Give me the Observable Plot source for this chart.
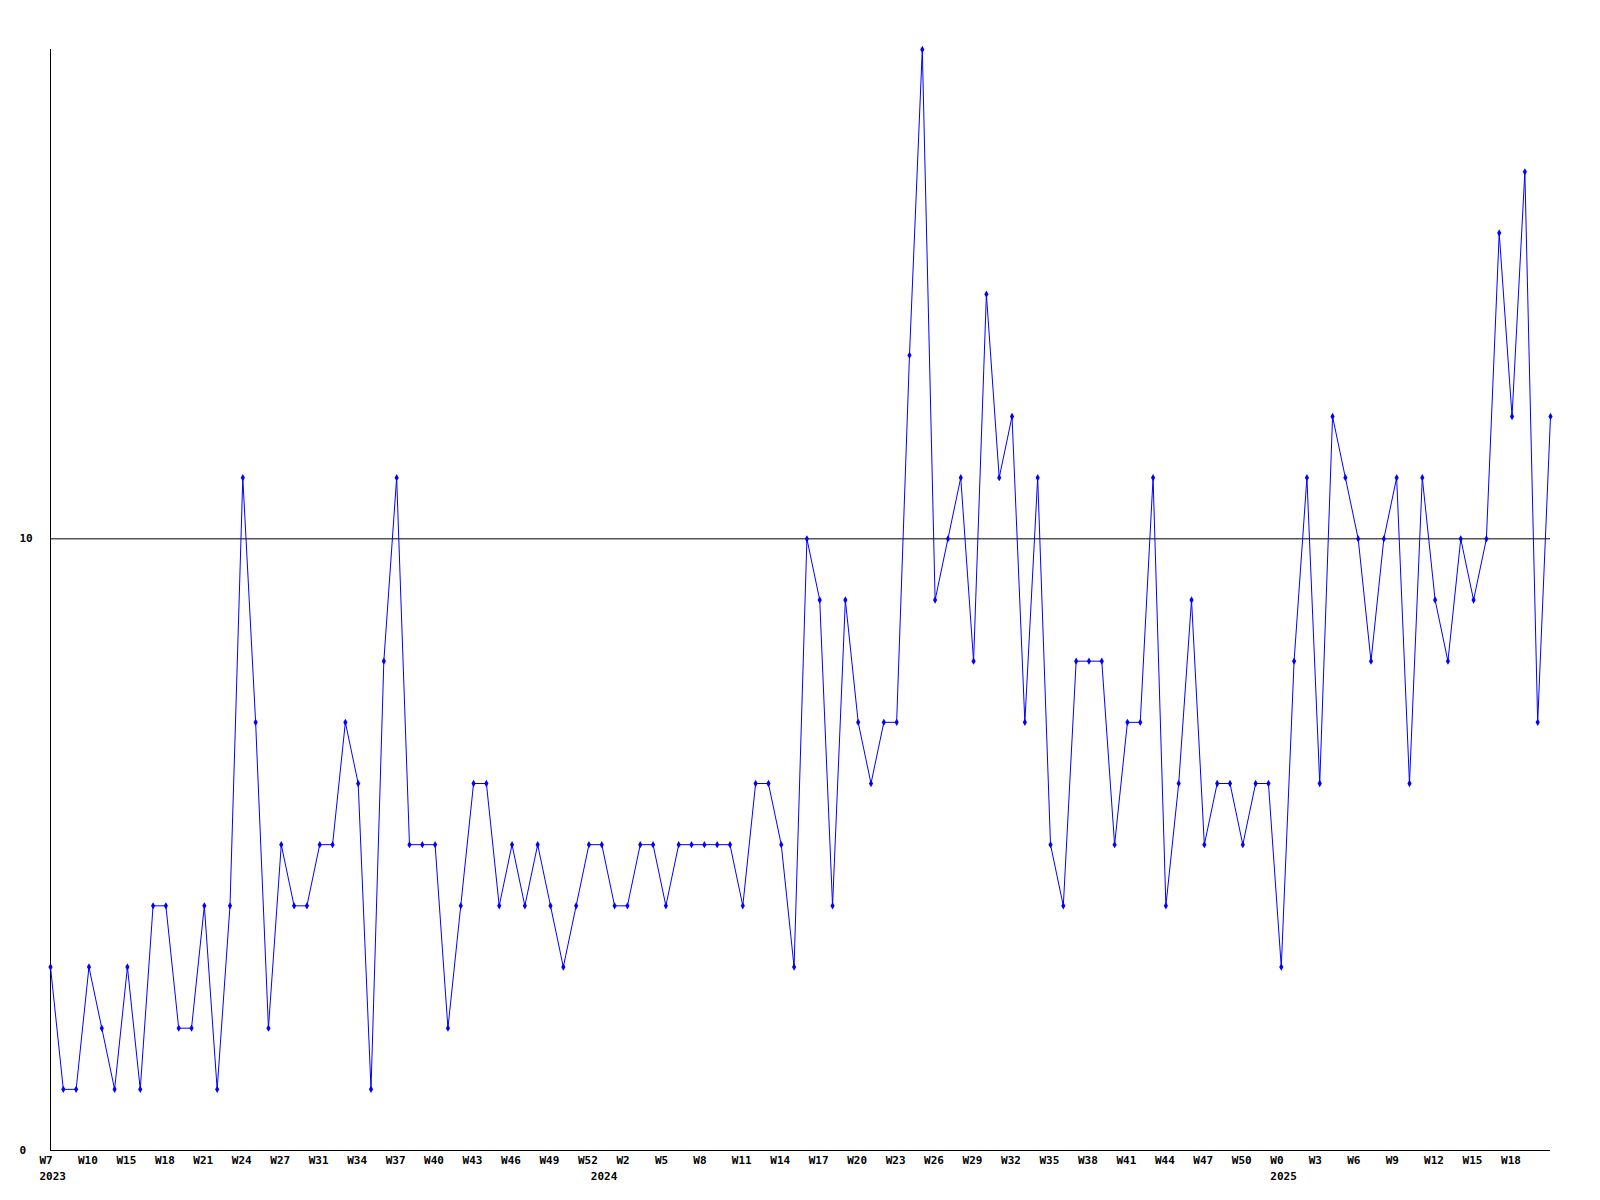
<!DOCTYPE html>
<html>
<head>
<meta charset="utf-8">
<script src="https://cdn.jsdelivr.net/npm/d3@7"></script>
<script src="https://cdn.jsdelivr.net/npm/@observablehq/plot@0.6"></script>
<style>
  html, body { margin: 0; padding: 0; background: #fff; }
  svg { display: block; }
</style>
</head>
<body>
<div id="chart"></div>
<script>
// Weekly counts, one per point (starting 2023 W7)
const values = [3,1,1,3,2,1,3,1,4,4,2,2,4,1,4,11,7,2,5,4,4,5,5,7,6,1,8,11,5,5,
  5,2,4,6,6,4,5,4,5,4,3,4,5,5,4,4,5,5,4,5,5,5,5,5,4,6,6,5,3,10,
  9,4,9,7,6,7,7,13,18,9,10,11,8,14,11,12,7,11,5,4,8,8,8,5,7,7,11,4,6,9,
  5,6,6,5,6,6,3,8,11,6,12,11,10,8,10,11,6,11,9,8,10,9,10,15,12,16,7,12];

// Week tick labels (every third point)
const tickIndex = [0,3,6,9,12,15,18,21,24,27,30,33,36,39,42,45,48,51,54,57,60,63,66,69,72,75,78,81,84,87,90,93,96,99,102,105,108,111,114];
const tickLabels = ["W7","W10","W15","W18","W21","W24","W27","W31","W34","W37","W40","W43","W46","W49","W52","W2","W5","W8","W11","W14","W17","W20","W23","W26","W29","W32","W35","W38","W41","W44","W47","W50","W0","W3","W6","W9","W12","W15","W18"];

// Year labels
const yearIndex = [0, 43, 96];
const yearLabels = ["2023", "2024", "2025"];

// Y axis labels
const yTicks = [0, 10];

const data = values.map((v, i) => ({i, v}));
const ticks = tickIndex.map((i, k) => ({i, label: tickLabels[k]}));
const years = yearIndex.map((i, k) => ({i, label: yearLabels[k]}));

const font = "DejaVu Sans Mono, monospace";

const chart = Plot.plot({
  width: 1600,
  height: 1200,
  marginLeft: 50,
  marginRight: 50,
  marginTop: 49,
  marginBottom: 50,
  style: {fontFamily: font, fontSize: "11px", fontWeight: "bold", background: "#fff", color: "#000"},
  x: {type: "linear", domain: [0, values.length - 1], axis: null},
  y: {domain: [0, 18], axis: null},
  marks: [
    Plot.ruleY([10], {stroke: "#000", strokeWidth: 1}),
    Plot.ruleY([0], {stroke: "#000", strokeWidth: 1}),
    Plot.ruleX([0], {stroke: "#000", strokeWidth: 1}),
    Plot.line(data, {x: "i", y: "v", stroke: "#0000ff", strokeWidth: 1}),
    Plot.dot(data, {x: "i", y: "v", fill: "#0000ff", stroke: "none", symbol: "diamond", r: 2.2}),
    Plot.text(ticks, {x: "i", text: "label", frameAnchor: "bottom", dy: 13, dx: -11, textAnchor: "start", fill: "#000", fontWeight: "bold", fontSize: 11}),
    Plot.text(years, {x: "i", text: "label", frameAnchor: "bottom", dy: 29, dx: -11, textAnchor: "start", fill: "#000", fontWeight: "bold", fontSize: 11}),
    Plot.text(yTicks, {y: d => d, text: d => String(d), frameAnchor: "left", dx: -31, textAnchor: "start", fill: "#000", fontWeight: "bold", fontSize: 11})
  ]
});
document.getElementById("chart").appendChild(chart);
</script>
</body>
</html>
